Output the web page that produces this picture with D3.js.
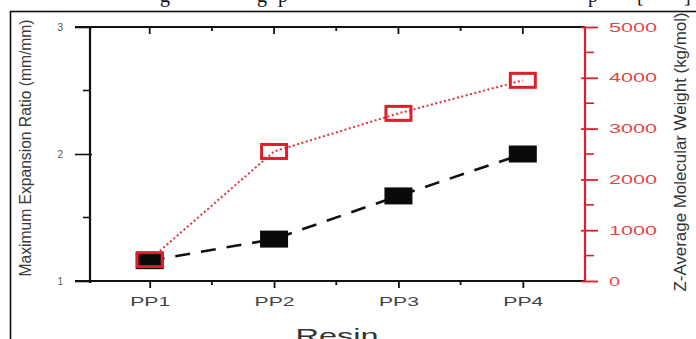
<!DOCTYPE html>
<html>
<head>
<meta charset="utf-8">
<script src="https://cdn.jsdelivr.net/npm/d3@7"></script>
<style>
  body { margin: 0; background: #fff; }
  svg { display: block; font-family: "Liberation Sans", Arial, sans-serif; }
  .tickLeft text { fill: #555; font-size: 10px; }
  .tickBottom text { fill: #444; font-size: 13px; }
  .tickRight text { fill: #e04848; font-size: 13px; }
</style>
</head>
<body>
<svg width="696" height="339"></svg>
<script>
// data
var resins = ['PP1', 'PP2', 'PP3', 'PP4'];
var expansionRatio = [1.16, 1.33, 1.67, 2.0];
var molWeight = [420, 2550, 3300, 3950];
var leftTicks = [1, 2, 3];
var rightTicks = [0, 1000, 2000, 3000, 4000, 5000];

var svg = d3.select('svg');
var red = '#dc1f2a';

var margin = { top: 27, left: 90, right: 111, bottom: 58 };
var width = 696 - margin.left - margin.right;

// page frame and the cut-off caption line above it
svg.append('rect')
  .attr('x', 10.5).attr('y', 11.5)
  .attr('width', 700).attr('height', 340)
  .attr('fill', 'none').attr('stroke', '#111').attr('stroke-width', 1.6);

var capGlyphs = [['g', 160], ['g', 257], ['p', 278], ['p', 588], ['[', 637], [']', 684]];
svg.selectAll('text.cap')
  .data(capGlyphs)
  .enter().append('text')
  .attr('class', 'cap')
  .attr('x', function (d) { return d[1]; })
  .attr('y', 2)
  .style('font-family', '"Liberation Serif", serif')
  .style('font-size', '20px')
  .attr('fill', '#111')
  .text(function (d) { return d[0]; });

var g = svg.append('g')
  .attr('transform', 'translate(' + margin.left + ',' + margin.top + ')');

var x = d3.scaleLinear().domain([0.52, 4.5]).range([0, width]);
var yL = d3.scaleLinear().domain([1, 3]).range([254, 0]);
var yR = d3.scaleLinear().domain([0, 5000]).range([254, 0]);
var catX = function (i) { return x(i + 1); };

// top frame line with inward ticks
var topAxis = g.append('g').attr('class', 'axisTop');
topAxis.append('line')
  .attr('x1', -15).attr('x2', width).attr('y1', 0).attr('y2', 0)
  .attr('stroke', '#111').attr('stroke-width', 2);
topAxis.selectAll('line.maj')
  .data(resins)
  .enter().append('line')
  .attr('x1', function (d, i) { return catX(i); })
  .attr('x2', function (d, i) { return catX(i); })
  .attr('y1', 0).attr('y2', 7)
  .attr('stroke', '#111').attr('stroke-width', 1.8);
topAxis.selectAll('line.min')
  .data([1.5, 2.5, 3.5])
  .enter().append('line')
  .attr('x1', function (d) { return x(d); })
  .attr('x2', function (d) { return x(d); })
  .attr('y1', 0).attr('y2', 4)
  .attr('stroke', '#111').attr('stroke-width', 1.8);

// bottom axis
var bottom = g.append('g')
  .attr('class', 'tickBottom')
  .attr('transform', 'translate(0,' + 254 + ')')
  .call(d3.axisBottom(x)
    .tickValues([1, 2, 3, 4])
    .tickFormat(function (d) { return resins[d - 1]; })
    .tickSize(7)
    .tickPadding(9));
bottom.select('.domain').remove();
bottom.selectAll('line').attr('stroke', '#111').attr('stroke-width', 1.8);
bottom.selectAll('text').attr('textLength', 40).attr('lengthAdjust', 'spacingAndGlyphs');
bottom.append('line')
  .attr('x1', -15).attr('x2', width).attr('y1', 0).attr('y2', 0)
  .attr('stroke', '#111').attr('stroke-width', 2);
bottom.selectAll('line.min')
  .data([1.5, 2.5, 3.5])
  .enter().append('line')
  .attr('class', 'min')
  .attr('x1', function (d) { return x(d); })
  .attr('x2', function (d) { return x(d); })
  .attr('y1', 0).attr('y2', 4)
  .attr('stroke', '#111').attr('stroke-width', 1.8);

// left axis
var left = g.append('g')
  .attr('class', 'tickLeft')
  .call(d3.axisLeft(yL)
    .tickValues(leftTicks)
    .tickFormat(d3.format('d'))
    .tickSize(15)
    .tickPadding(12));
left.select('.domain').remove();
left.selectAll('line').attr('stroke', '#111').attr('stroke-width', 1.6).attr('x2', -15).attr('x1', 2);
left.append('line')
  .attr('x1', 0).attr('x2', 0).attr('y1', 0).attr('y2', 256)
  .attr('stroke', '#111').attr('stroke-width', 2.2);
left.selectAll('line.min')
  .data([1.5, 2.5])
  .enter().append('line')
  .attr('class', 'min')
  .attr('x1', -7).attr('x2', 0)
  .attr('y1', function (d) { return yL(d); })
  .attr('y2', function (d) { return yL(d); })
  .attr('stroke', '#111').attr('stroke-width', 1.6);

// right axis (red)
var right = g.append('g')
  .attr('class', 'tickRight')
  .attr('transform', 'translate(' + width + ',0)')
  .call(d3.axisRight(yR)
    .tickValues(rightTicks)
    .tickFormat(d3.format('d'))
    .tickSize(13)
    .tickPadding(11));
right.select('.domain').remove();
right.selectAll('line').attr('stroke', red).attr('stroke-width', 1.8).attr('x1', -4);
right.selectAll('text').attr('textLength', function (d) { return d === 0 ? 11 : 48; })
  .attr('lengthAdjust', 'spacingAndGlyphs');
right.append('line')
  .attr('x1', 0).attr('x2', 0).attr('y1', 0).attr('y2', 255)
  .attr('stroke', red).attr('stroke-width', 2.2);
right.selectAll('line.min')
  .data([500, 1500, 2500, 3500, 4500])
  .enter().append('line')
  .attr('class', 'min')
  .attr('x1', 0).attr('x2', 9)
  .attr('y1', function (d) { return yR(d); })
  .attr('y2', function (d) { return yR(d); })
  .attr('stroke', red).attr('stroke-width', 1.6);

// lines
var blackLine = d3.line()
  .x(function (d, i) { return catX(i); })
  .y(function (d) { return yL(d); });
var redLine = d3.line()
  .x(function (d, i) { return catX(i); })
  .y(function (d) { return yR(d); });

g.append('path')
  .datum(expansionRatio)
  .attr('d', blackLine)
  .attr('fill', 'none')
  .attr('stroke', '#111')
  .attr('stroke-width', 2.6)
  .attr('stroke-dasharray', '15,11');

g.append('path')
  .datum(molWeight)
  .attr('d', redLine)
  .attr('fill', 'none')
  .attr('stroke', '#e0303a')
  .attr('stroke-width', 2)
  .attr('stroke-dasharray', '2,2.5');

var sqW = 28, sqH = 17;

g.selectAll('rect.blk')
  .data(expansionRatio)
  .enter().append('rect')
  .attr('class', 'blk')
  .attr('x', function (d, i) { return catX(i) - sqW / 2; })
  .attr('y', function (d) { return yL(d) - sqH / 2; })
  .attr('width', sqW).attr('height', sqH)
  .attr('fill', '#0a0a0a');

g.selectAll('rect.red')
  .data(molWeight)
  .enter().append('rect')
  .attr('class', 'red')
  .attr('x', function (d, i) { return catX(i) - sqW / 2 + 1.5; })
  .attr('y', function (d) { return yR(d) - sqH / 2 + 1.5; })
  .attr('width', sqW - 3).attr('height', sqH - 3)
  .attr('fill', 'none')
  .attr('stroke', red).attr('stroke-width', 3);

// axis titles
svg.append('text')
  .attr('transform', 'translate(31,148) rotate(-90)')
  .attr('text-anchor', 'middle')
  .attr('textLength', 257).attr('lengthAdjust', 'spacingAndGlyphs')
  .style('font-size', '16px')
  .attr('fill', '#3a3a3a')
  .text('Maximum Expansion Ratio (mm/mm)');

svg.append('text')
  .attr('transform', 'translate(686,152) rotate(-90)')
  .attr('text-anchor', 'middle')
  .attr('textLength', 279).attr('lengthAdjust', 'spacingAndGlyphs')
  .style('font-size', '16px')
  .attr('fill', '#333')
  .text('Z-Average Molecular Weight (kg/mol)');

svg.append('text')
  .attr('x', 337).attr('y', 343)
  .attr('text-anchor', 'middle')
  .attr('textLength', 83).attr('lengthAdjust', 'spacingAndGlyphs')
  .style('font-size', '21px')
  .attr('fill', '#333')
  .text('Resin');
</script>
</body>
</html>
